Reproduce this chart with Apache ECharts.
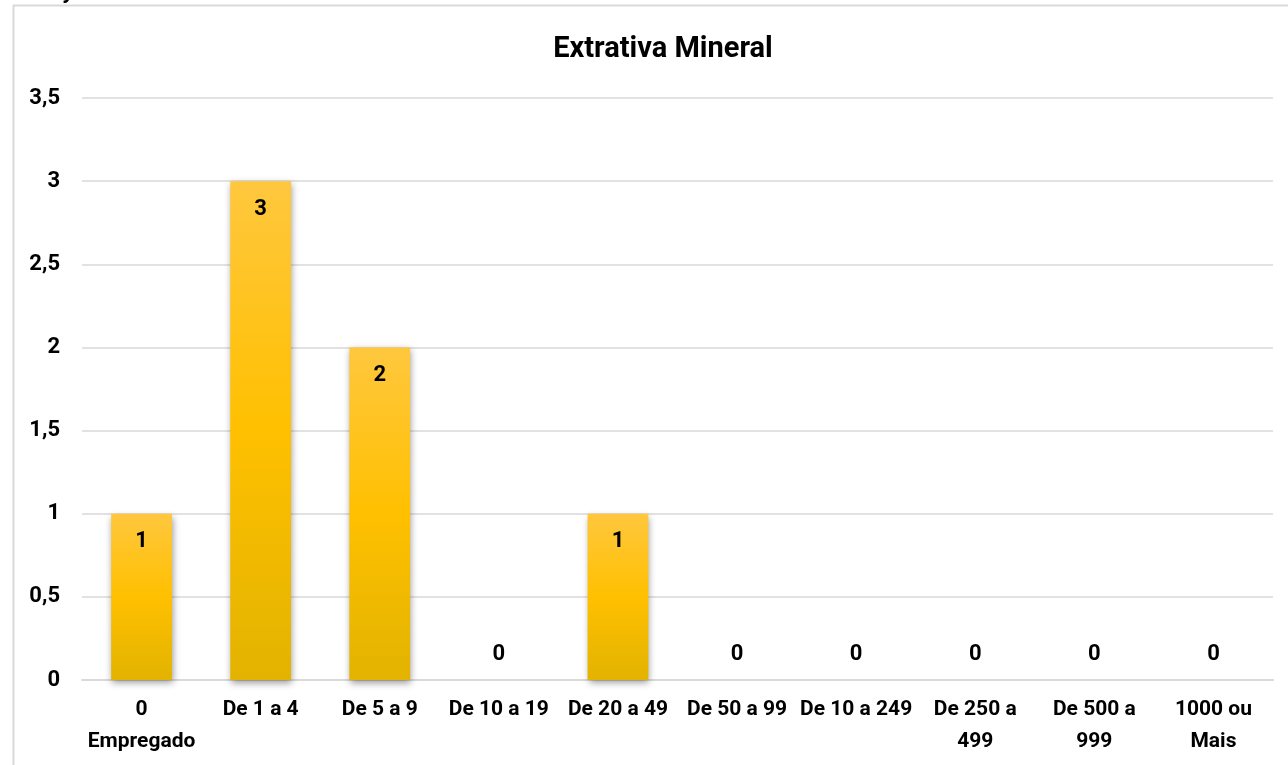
<!DOCTYPE html>
<html>
<head>
<meta charset="utf-8">
<script src="https://cdn.jsdelivr.net/npm/echarts@6/dist/echarts.min.js"></script>
<style>
  html, body { margin: 0; padding: 0; background: #fff; }
  #chart { width: 1288px; height: 765px; }
</style>
</head>
<body>
<div id="chart"></div>
<script>
const categories = ['0\nEmpregado', 'De 1 a 4', 'De 5 a 9', 'De 10 a 19', 'De 20 a 49',
  'De 50 a 99', 'De 10 a 249', 'De 250 a\n499', 'De 500 a\n999', '1000 ou\nMais']
const values = [1, 3, 2, 0, 1, 0, 0, 0, 0, 0]
const yTicks = [0, 0.5, 1, 1.5, 2, 2.5, 3, 3.5]

const font = "'Liberation Sans Narrow', 'Arial Narrow', 'Roboto', sans-serif"

const chart = echarts.init(document.getElementById('chart'))

const barColor = new echarts.graphic.LinearGradient(0, 0, 0, 1, [
  { offset: 0, color: '#FFC73E' },
  { offset: 0.5, color: '#FFC000' },
  { offset: 1, color: '#E2B300' }
])

chart.setOption({
  animation: false,
  title: {
    text: 'Extrativa Mineral',
    left: 658,
    textAlign: 'center',
    top: 30,
    textStyle: { fontFamily: font, fontSize: 29, fontWeight: 'bold', color: '#000' }
  },
  graphic: [
    {
      type: 'rect',
      shape: { x: 13.5, y: 5.5, width: 1400, height: 900 },
      style: { fill: 'none', stroke: '#D9D9D9', lineWidth: 2 },
      silent: true
    },
    {
      type: 'text',
      left: 64,
      top: -19,
      style: { text: 'y', font: 'italic bold 22px ' + font, fill: '#000' },
      silent: true
    }
  ],
  grid: { left: 82, right: 15, top: 98, bottom: 85, containLabel: false },
  xAxis: {
    type: 'category',
    data: categories,
    axisLine: { lineStyle: { color: '#D9D9D9', width: 2 } },
    axisTick: { show: false },
    axisLabel: {
      interval: 0,
      margin: 14,
      color: '#000',
      fontFamily: font,
      fontSize: 21,
      fontWeight: 'bold',
      lineHeight: 32
    }
  },
  yAxis: {
    type: 'value',
    min: 0,
    max: 3.5,
    interval: 0.5,
    axisLine: { show: false },
    axisTick: { show: false },
    splitLine: { lineStyle: { color: '#D9D9D9', width: 1.5 } },
    axisLabel: {
      margin: 22,
      color: '#000',
      fontFamily: font,
      fontSize: 22,
      fontWeight: 'bold',
      formatter: v => yTicks.includes(v) ? String(v).replace('.', ',') : ''
    }
  },
  series: [
    {
      type: 'bar',
      barWidth: '51%',
      data: values.map(v => ({
        value: v,
        label: v === 0 ? { position: 'top', distance: 15 } : { position: 'insideTop', distance: 17 }
      })),
      itemStyle: {
        color: barColor,
        shadowColor: 'rgba(0,0,0,0.4)',
        shadowBlur: 7,
        shadowOffsetX: 1,
        shadowOffsetY: 3
      },
      label: {
        show: true,
        color: '#000',
        fontFamily: font,
        fontSize: 22,
        fontWeight: 'bold'
      }
    }
  ]
})
</script>
</body>
</html>
